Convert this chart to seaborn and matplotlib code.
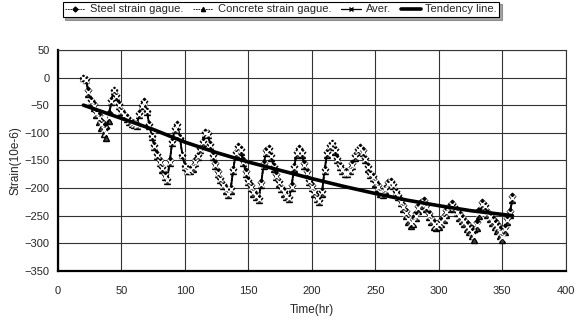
import matplotlib
matplotlib.use("Agg")
import matplotlib.pyplot as plt
import seaborn as sns
import pandas as pd
import numpy as np

# Time (hr), one reading every 2 hours
time_hr = list(range(20, 360, 2))

steel = [
    0, -3, -22, -40, -48, -60, -68, -78, -85, -92,
    -65, -40, -22, -32, -48, -58, -66, -72, -76, -80,
    -82, -84, -65, -50, -42, -60, -85, -105, -122, -138,
    -150, -162, -175, -184, -150, -115, -92, -84, -110, -140,
    -160, -167, -166, -160, -150, -140, -128, -115, -98, -100,
    -120, -140, -155, -170, -182, -192, -200, -208, -200, -165,
    -135, -124, -130, -150, -170, -185, -195, -205, -213, -218,
    -190, -155, -132, -128, -140, -160, -175, -188, -198, -206,
    -212, -216, -195, -160, -135, -127, -135, -155, -170, -185,
    -195, -205, -215, -222, -205, -165, -135, -122, -118, -130,
    -145, -158, -165, -170, -170, -165, -155, -140, -130, -126,
    -132, -145, -160, -172, -178, -188, -195, -205, -208, -200,
    -190, -188, -192, -205, -212, -222, -230, -242, -252, -258,
    -255, -245, -232, -225, -222, -230, -245, -255, -262, -265,
    -262, -258, -250, -240, -232, -228, -232, -240, -246, -252,
    -258, -264, -268, -272, -280, -262, -240, -226, -230, -242,
    -248, -255, -260, -265, -272, -282, -270, -255, -242, -215,
]

concrete = [
    0, -5, -30, -45, -55, -68, -80, -92, -102, -110,
    -78, -45, -25, -35, -52, -62, -70, -75, -80, -84,
    -86, -88, -68, -52, -45, -62, -88, -108, -126, -142,
    -155, -167, -180, -188, -155, -118, -95, -88, -108, -140,
    -162, -170, -170, -165, -155, -143, -132, -118, -102, -104,
    -124, -144, -160, -175, -186, -196, -205, -212, -205, -170,
    -140, -128, -134, -155, -175, -190, -200, -210, -217, -222,
    -195, -160, -136, -132, -145, -165, -180, -192, -202, -210,
    -216, -220, -200, -165, -140, -131, -140, -160, -175, -190,
    -200, -210, -220, -226, -210, -170, -140, -126, -120, -134,
    -150, -162, -170, -174, -174, -170, -160, -145, -134, -130,
    -136, -150, -165, -176, -182, -192, -200, -210, -212, -205,
    -195, -192, -196, -208, -216, -228, -238, -250, -262, -268,
    -265, -255, -242, -232, -228, -238, -252, -262, -270, -272,
    -270, -266, -258, -248, -238, -234, -238, -246, -254, -260,
    -266, -274, -280, -286, -294, -272, -250, -232, -236, -248,
    -256, -264, -270, -278, -286, -294, -280, -262, -248, -222,
]

trend_time = [20, 50, 75, 100, 125, 150, 175, 200, 225, 250, 275, 300, 325, 358]
trend_vals = [-50, -74, -94, -117, -136, -153, -168, -183, -197, -210, -222, -232, -241, -250]

assert len(steel) == len(time_hr) == len(concrete)

df = pd.DataFrame({"time": time_hr, "steel": steel, "concrete": concrete})
df["aver"] = (df["steel"] + df["concrete"]) / 2
trend = pd.DataFrame({"time": trend_time, "strain": trend_vals})

sns.set_style("white")
plt.rcParams["font.family"] = ["Liberation Sans", "DejaVu Sans"]

fig = plt.figure(figsize=(5.77, 3.24), dpi=100)
ax = fig.add_axes([0.1005, 0.164, 0.880, 0.682])

sns.lineplot(data=df, x="time", y="steel", ax=ax, color="black", lw=1.0,
             ls=(0, (2, 1)), marker="D", markersize=3.5, mec="black")
sns.lineplot(data=df, x="time", y="concrete", ax=ax, color="black", lw=1.0,
             ls=(0, (2, 1)), marker="^", markersize=4.5, mfc="#444444", mec="black", mew=1.0)
sns.lineplot(data=df, x="time", y="aver", ax=ax, color="black", lw=1.3,
             marker="x", markersize=4, mew=1.0)
sns.lineplot(data=trend, x="time", y="strain", ax=ax, color="black", lw=2.6)

ax.set_xlim(0, 400)
ax.set_ylim(-350, 50)
ax.set_xticks(range(0, 401, 50))
ax.set_yticks(range(-350, 51, 50))
ax.grid(True, color="#333333", lw=0.8)
ax.set_axisbelow(True)
for side in ["left", "bottom"]:
    ax.spines[side].set_linewidth(1.6)
    ax.spines[side].set_color("black")
for side in ["top", "right"]:
    ax.spines[side].set_linewidth(0.8)
    ax.spines[side].set_color("#333333")
ax.tick_params(labelsize=8, length=0)
ax.tick_params(axis="y", pad=6)
ax.tick_params(axis="x", pad=11)
ax.set_xlabel("Time(hr)", fontsize=8.5, labelpad=6)
ax.set_ylabel("Strain(10e-6)", fontsize=8.5, labelpad=2)

handles = [
    plt.Line2D([], [], color="black", lw=0.6, ls=(0, (2, 1)), marker="D", markersize=2.5),
    plt.Line2D([], [], color="black", lw=0.6, ls=(0, (2, 1)), marker="^", markersize=3),
    plt.Line2D([], [], color="black", lw=0.9, marker="x", markersize=3),
    plt.Line2D([], [], color="black", lw=2.6),
]
labels = ["Steel strain gague.", "Concrete strain gague.", "Aver.", "Tendency line."]
leg = fig.legend(handles, labels, loc="upper center", bbox_to_anchor=(0.487, 0.995),
                 ncol=4, fontsize=8, frameon=True, fancybox=False, shadow=True,
                 handlelength=1.8, handletextpad=0.4, columnspacing=0.9,
                 borderpad=0.25, borderaxespad=0)
leg.get_frame().set_edgecolor("black")
leg.get_frame().set_linewidth(0.8)

fig.savefig("out.png", dpi=100)
